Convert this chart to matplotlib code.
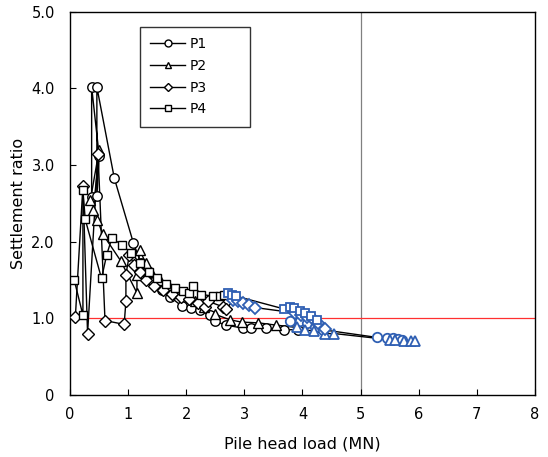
import matplotlib
matplotlib.use("Agg")
import matplotlib.pyplot as plt
from matplotlib.lines import Line2D

# ---- data ----
p1_x = [0.37, 0.37, 0.50, 0.46, 0.46, 0.76, 1.09, 1.22, 1.35, 1.43, 1.58, 1.72, 1.92, 2.08, 2.23, 2.41,
        2.49, 2.69, 2.98, 3.12, 3.38, 3.69, 3.93,
        3.78, 3.95, 4.07, 4.21, 4.35, 5.28, 5.45, 5.55, 5.65, 5.72]
p1_y = [2.58, 4.02, 3.12, 2.59, 4.02, 2.83, 1.98, 1.72, 1.57, 1.47, 1.37, 1.28, 1.16, 1.13, 1.11, 1.04,
        0.96, 0.91, 0.87, 0.87, 0.87, 0.85, 0.85,
        0.96, 0.96, 0.94, 0.89, 0.85, 0.75, 0.74, 0.74, 0.73, 0.72]
p1_blue = 23

p2_x = [0.35, 0.50, 0.40, 0.47, 0.56, 0.87, 1.15, 1.15, 1.20, 1.30, 1.40, 1.55, 1.70, 1.85, 2.00, 2.15,
        2.30, 2.50, 2.75, 2.95, 3.24, 3.55,
        3.90, 4.05, 4.20, 4.38, 4.55, 5.50, 5.60, 5.75, 5.87, 5.93]
p2_y = [2.55, 3.20, 2.41, 2.28, 2.10, 1.75, 1.33, 1.57, 1.89, 1.72, 1.60, 1.50, 1.42, 1.35, 1.30, 1.22,
        1.15, 1.05, 0.98, 0.95, 0.94, 0.91,
        0.88, 0.85, 0.83, 0.80, 0.80, 0.72, 0.71, 0.70, 0.70, 0.70]
p2_blue = 22

p3_x = [0.09, 0.22, 0.30, 0.48, 0.60, 0.93, 0.96, 0.96, 1.02, 1.10, 1.20, 1.30, 1.45, 1.60, 1.75, 1.90,
        2.05, 2.20, 2.32, 2.38, 2.63, 2.69,
        2.81, 2.89, 2.98, 3.08, 3.18, 3.87, 3.98, 4.07, 4.18, 4.27, 4.38]
p3_y = [1.02, 2.73, 0.80, 3.15, 0.97, 0.92, 1.22, 1.57, 1.83, 1.70, 1.60, 1.50, 1.42, 1.37, 1.32, 1.28,
        1.25, 1.20, 1.15, 1.22, 1.15, 1.12,
        1.24, 1.22, 1.20, 1.17, 1.14, 1.07, 1.04, 1.02, 0.99, 0.94, 0.86]
p3_blue = 22

p4_x = [0.07, 0.22, 0.22, 0.26, 0.54, 0.63, 0.72, 0.90, 1.05, 1.20, 1.35, 1.50, 1.65, 1.80, 1.95, 2.05,
        2.12, 2.26, 2.46, 2.58, 2.65,
        2.72, 2.78, 2.85, 3.69, 3.78, 3.85, 3.95, 4.05, 4.15, 4.25]
p4_y = [1.50, 1.04, 2.67, 2.29, 1.52, 1.83, 2.05, 1.95, 1.85, 1.72, 1.60, 1.52, 1.45, 1.40, 1.36, 1.33,
        1.42, 1.31, 1.29, 1.29, 1.30,
        1.33, 1.31, 1.29, 1.12, 1.15, 1.14, 1.10, 1.07, 1.03, 0.98]
p4_blue = 21

series = [("P1", p1_x, p1_y, p1_blue, "o", 6.8),
          ("P2", p2_x, p2_y, p2_blue, "^", 7.0),
          ("P3", p3_x, p3_y, p3_blue, "D", 5.8),
          ("P4", p4_x, p4_y, p4_blue, "s", 6.0)]

x_ticks = [0, 1, 2, 3, 4, 5, 6, 7, 8]
y_ticks = [0, 1.0, 2.0, 3.0, 4.0, 5.0]
y_tick_labels = ["0", "1.0", "2.0", "3.0", "4.0", "5.0"]

BLUE = "#2F5FB3"

fig = plt.figure(figsize=(5.48, 4.57), dpi=100)
ax = fig.add_axes([0.128, 0.136, 0.848, 0.838])

ax.axvline(5, color="#808080", lw=0.9, zorder=1)
ax.axhline(1.0, color="#FF3030", lw=0.9, zorder=1)

handles = []
for name, xs, ys, nb, mk, ms in series:
    ax.plot(xs, ys, color="black", lw=1.0, zorder=2)
    ax.plot(xs[:nb], ys[:nb], ls="none", marker=mk, ms=ms, mfc="white",
            mec="black", mew=1.0, zorder=3)
    ax.plot(xs[nb:], ys[nb:], ls="none", marker=mk, ms=ms, mfc="white",
            mec=BLUE, mew=1.3, zorder=4)
    handles.append(Line2D([], [], color="black", lw=1.0, marker=mk,
                          ms=(4.2 if mk == "D" else 5.0),
                          mfc="white", mec="black", label=name))

ax.set_xlim(0, 8)
ax.set_ylim(0, 5)
ax.set_xticks(x_ticks)
ax.set_yticks(y_ticks)
ax.set_yticklabels(y_tick_labels)
ax.tick_params(direction="in", labelsize=10.5, length=4)
ax.tick_params(axis="x", pad=9)
ax.tick_params(axis="y", pad=11)
for s in ax.spines.values():
    s.set_linewidth(1.0)

ax.set_xlabel("Pile head load (MN)", fontsize=11.5, labelpad=10)
ax.set_ylabel("Settlement ratio", fontsize=11.5, labelpad=4)

leg = ax.legend(handles=handles, loc="upper left",
                bbox_to_anchor=(0.1505, 0.961, 0.237, 0.0), mode="expand",
                frameon=True, fancybox=False, edgecolor="black", fontsize=10,
                handlelength=2.5, labelspacing=0.55, borderpad=0.75,
                handletextpad=0.3, borderaxespad=0.0)
leg.get_frame().set_linewidth(1.0)

fig.savefig("out.png", dpi=100)
